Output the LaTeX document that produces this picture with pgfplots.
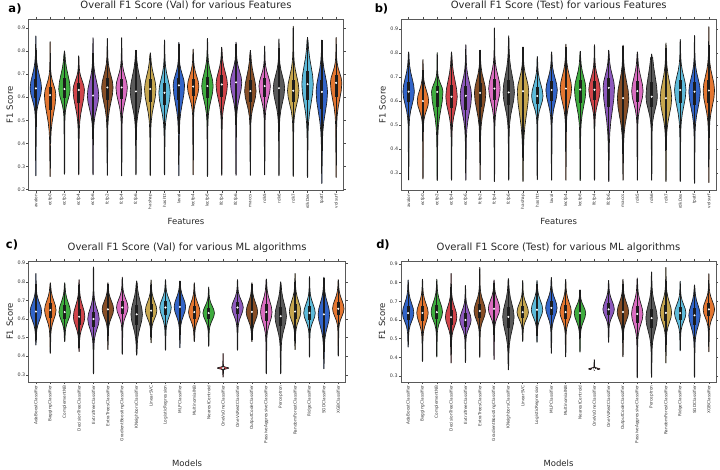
\documentclass[border=0pt]{standalone}
\usepackage{pgfplots}
\pgfplotsset{compat=1.18}
\usepackage{fontspec}
\setmainfont{DejaVu Sans}
\definecolor{c1}{RGB}{50,100,200}
\definecolor{c2}{RGB}{228,118,48}
\definecolor{c3}{RGB}{62,172,62}
\definecolor{c4}{RGB}{208,68,74}
\definecolor{c5}{RGB}{140,88,188}
\definecolor{c6}{RGB}{135,78,38}
\definecolor{c7}{RGB}{218,108,192}
\definecolor{c8}{RGB}{90,90,90}
\definecolor{c9}{RGB}{198,166,78}
\definecolor{c10}{RGB}{92,186,218}
\definecolor{vline}{RGB}{28,28,28}
\newcommand\vpt[2]{\pgfmathsetmacro\tmpy{#2}\pgfmathsetmacro\tmpxr{\vx+#1}\pgfmathsetmacro\tmpxl{\vx-#1}\xdef\vR{\vR(\tmpxr,\tmpy)}\xdef\vL{(\tmpxl,\tmpy)\vL}}
% #1 x, #2 min, #3 q1, #4 median, #5 q3, #6 max, #7 colour
\newcommand{\violin}[7]{%
 \pgfmathsetmacro\vx{#1}%
 \pgfmathsetmacro\vlo{#2}\pgfmathsetmacro\vqa{#3}\pgfmathsetmacro\vmed{#4}\pgfmathsetmacro\vqc{#5}\pgfmathsetmacro\vhi{#6}%
 \pgfmathsetmacro\sL{max(0.8*(\vmed-\vqa)/0.674,0.004)}%
 \pgfmathsetmacro\sU{max(0.9*(\vqc-\vmed)/0.674,0.004)}%
 \gdef\vR{}\gdef\vL{}%
 \vpt{0.006}{\vlo}%
 \vpt{0.016}{\vlo+0.006}%
 \pgfmathsetmacro\ylt{max(\vmed-3*\sL,\vlo+0.012)}%
 \vpt{0.022}{(\vlo+\ylt)/2}%
 \vpt{0.03}{\ylt}%
 \vpt{0.04}{max(\vmed-2.5*\sL,\vlo+0.013)}%
 \vpt{0.072}{max(\vmed-2*\sL,\vlo+0.014)}%
 \vpt{0.141}{max(\vmed-1.5*\sL,\vlo+0.015)}%
 \vpt{0.248}{\vmed-\sL}%
 \vpt{0.353}{\vmed-0.5*\sL}%
 \vpt{0.40}{\vmed}%
 \vpt{0.353}{\vmed+0.5*\sU}%
 \vpt{0.248}{\vmed+\sU}%
 \vpt{0.141}{min(\vmed+1.5*\sU,\vhi-0.015)}%
 \vpt{0.069}{min(\vmed+2*\sU,\vhi-0.014)}%
 \vpt{0.035}{min(\vmed+2.5*\sU,\vhi-0.013)}%
 \pgfmathsetmacro\yut{min(\vmed+3*\sU,\vhi-0.012)}%
 \vpt{0.024}{\yut}%
 \vpt{0.018}{(\vhi+\yut)/2}%
 \vpt{0.012}{\vhi-0.006}%
 \vpt{0.004}{\vhi}%
 \pgfmathsetmacro\wl{max(\vlo,\vqa-1.5*(\vqc-\vqa))}%
 \pgfmathsetmacro\wh{min(\vhi,\vqc+1.5*(\vqc-\vqa))}%
 \edef\temp{\noexpand\addplot[fill=#7,draw=vline,line width=0.65pt,line join=round] coordinates {\vR\vL} -- cycle;}\temp
 \edef\temp{\noexpand\addplot[vline,line width=1.3pt] coordinates {(\vx,\wl) (\vx,\wh)};}\temp
 \edef\temp{\noexpand\addplot[vline,line width=2.8pt] coordinates {(\vx,\vqa) (\vx,\vqc)};}\temp
 \edef\temp{\noexpand\addplot[only marks,mark=*,mark size=0.8pt,mark options={fill=white,draw=white}] coordinates {(\vx,\vmed)};}\temp
}
\pgfplotsset{vstyle/.style={scale only axis, xmin=-0.5, xmax=21.5, xtick={0,...,21},
  tick align=outside, major tick length=2.2pt,
  tick style={black!70, line width=0.5pt},
  axis line style={black!65, line width=0.7pt},
  xticklabel style={rotate=90, anchor=east, font=\fontsize{4.2}{5}\selectfont, inner sep=1pt, text=black!80},
  yticklabel style={font=\fontsize{4.8}{5}\selectfont, inner sep=1pt, text=black!80, /pgf/number format/.cd, fixed, precision=1, assume math mode=true},
  ytick={0.2,0.3,0.4,0.5,0.6,0.7,0.8,0.9},
  title style={at={(0.5,1)}, anchor=base, yshift=4.3pt, font=\fontsize{10}{12}\selectfont, text=black!85},
  every axis y label/.style={at={(axis description cs:0,0.5)}, xshift=-19pt, rotate=90, anchor=center, font=\fontsize{8.5}{10}\selectfont, text=black!85},
  ylabel={F1 Score},
}}
\begin{document}
\begin{tikzpicture}
\path[use as bounding box] (0,0) rectangle (720pt,-470pt);
% ---------------- a
\begin{axis}[vstyle, at={(28.7pt,-190.5pt)}, anchor=south west, width=314.6pt, height=171.5pt,
  ymin=0.1965, ymax=0.938,
  title={Overall F1 Score (Val) for various Features},
  xticklabels={avalon,ecfp0,ecfp2,ecfp4,ecfp6,fcfp2,fcfp4,fcfp6,hashap,hashtt,laval,lecfp4,lecfp6,lfcfp4,lfcfp6,maccs,rdk5,rdk6,rdk7,rdkDes,tpatf,volsurf},
  every axis x label/.style={at={(axis description cs:0.5,0)}, yshift=-30.5pt, anchor=center, font=\fontsize{8.5}{10}\selectfont, text=black!85},
  xlabel={Features}]
\violin{0}{0.260}{0.597}{0.638}{0.680}{0.865}{c1}
\violin{1}{0.257}{0.544}{0.609}{0.642}{0.840}{c2}
\violin{2}{0.267}{0.595}{0.635}{0.681}{0.800}{c3}
\violin{3}{0.264}{0.573}{0.631}{0.660}{0.779}{c4}
\violin{4}{0.264}{0.558}{0.607}{0.652}{0.857}{c5}
\violin{5}{0.262}{0.587}{0.642}{0.681}{0.854}{c6}
\violin{6}{0.260}{0.593}{0.642}{0.677}{0.857}{c7}
\violin{7}{0.264}{0.570}{0.625}{0.674}{0.803}{c8}
\violin{8}{0.260}{0.577}{0.635}{0.678}{0.792}{c9}
\violin{9}{0.264}{0.564}{0.619}{0.662}{0.847}{c10}
\violin{10}{0.260}{0.587}{0.651}{0.685}{0.837}{c1}
\violin{11}{0.264}{0.605}{0.646}{0.680}{0.808}{c2}
\violin{12}{0.257}{0.597}{0.648}{0.688}{0.854}{c3}
\violin{13}{0.262}{0.602}{0.655}{0.694}{0.816}{c4}
\violin{14}{0.262}{0.612}{0.664}{0.700}{0.838}{c5}
\violin{15}{0.262}{0.580}{0.626}{0.674}{0.802}{c6}
\violin{16}{0.264}{0.602}{0.648}{0.681}{0.821}{c7}
\violin{17}{0.260}{0.587}{0.639}{0.678}{0.852}{c8}
\violin{18}{0.257}{0.579}{0.628}{0.674}{0.907}{c9}
\violin{19}{0.253}{0.587}{0.656}{0.714}{0.858}{c10}
\violin{20}{0.227}{0.551}{0.623}{0.674}{0.847}{c1}
\violin{21}{0.253}{0.602}{0.662}{0.694}{0.858}{c2}
\end{axis}
% ---------------- b
\begin{axis}[vstyle, at={(401.5pt,-190.5pt)}, anchor=south west, width=314.5pt, height=171.5pt,
  ymin=0.227, ymax=0.942,
  title={Overall F1 Score (Test) for various Features},
  xticklabels={avalon,ecfp0,ecfp2,ecfp4,ecfp6,fcfp2,fcfp4,fcfp6,hashap,hashtt,laval,lecfp4,lecfp6,lfcfp4,lfcfp6,maccs,rdk5,rdk6,rdk7,rdkDes,tpatf,volsurf},
  every axis x label/.style={at={(axis description cs:0.5,0)}, yshift=-30.5pt, anchor=center, font=\fontsize{8.5}{10}\selectfont, text=black!85},
  xlabel={Features}]
\violin{0}{0.271}{0.594}{0.639}{0.680}{0.805}{c1}
\violin{1}{0.275}{0.567}{0.600}{0.632}{0.773}{c2}
\violin{2}{0.268}{0.575}{0.638}{0.662}{0.802}{c3}
\violin{3}{0.270}{0.569}{0.618}{0.667}{0.805}{c4}
\violin{4}{0.270}{0.563}{0.622}{0.664}{0.835}{c5}
\violin{5}{0.272}{0.576}{0.634}{0.674}{0.812}{c6}
\violin{6}{0.264}{0.604}{0.652}{0.692}{0.905}{c7}
\violin{7}{0.270}{0.583}{0.636}{0.687}{0.872}{c8}
\violin{8}{0.264}{0.562}{0.641}{0.680}{0.825}{c9}
\violin{9}{0.272}{0.586}{0.621}{0.657}{0.786}{c10}
\violin{10}{0.270}{0.600}{0.646}{0.682}{0.805}{c1}
\violin{11}{0.270}{0.604}{0.652}{0.692}{0.837}{c2}
\violin{12}{0.268}{0.590}{0.648}{0.687}{0.808}{c3}
\violin{13}{0.270}{0.604}{0.647}{0.683}{0.835}{c4}
\violin{14}{0.264}{0.576}{0.655}{0.694}{0.812}{c5}
\violin{15}{0.270}{0.549}{0.612}{0.662}{0.833}{c6}
\violin{16}{0.270}{0.597}{0.641}{0.683}{0.805}{c7}
\violin{17}{0.270}{0.574}{0.618}{0.680}{0.796}{c8}
\violin{18}{0.264}{0.556}{0.612}{0.662}{0.842}{c9}
\violin{19}{0.264}{0.590}{0.646}{0.687}{0.857}{c10}
\violin{20}{0.257}{0.583}{0.639}{0.680}{0.873}{c1}
\violin{21}{0.260}{0.590}{0.644}{0.687}{0.910}{c2}
\end{axis}
% ---------------- c
\begin{axis}[vstyle, at={(28.7pt,-382pt)}, anchor=south west, width=316.8pt, height=121pt,
  ymin=0.261, ymax=0.912,
  title={Overall F1 Score (Val) for various ML algorithms},
  xticklabels={AdaBoostClassifier,BaggingClassifier,ComplementNB,DecisionTreeClassifier,ExtraTreeClassifier,ExtraTreesClassifier,GradientBoostingClassifier,KNeighborsClassifier,LinearSVC,LogisticRegression,MLPClassifier,MultinomialNB,NearestCentroid,OneVsOneClassifier,OneVsRestClassifier,OutputCodeClassifier,PassiveAggressiveClassifier,Perceptron,RandomForestClassifier,RidgeClassifier,SGDClassifier,XGBClassifier},
  every axis x label/.style={at={(axis description cs:0.5,0)}, yshift=-81pt, anchor=center, font=\fontsize{8.5}{10}\selectfont, text=black!85},
  xlabel={Models}]
\violin{0}{0.460}{0.600}{0.640}{0.675}{0.845}{c1}
\violin{1}{0.415}{0.605}{0.648}{0.685}{0.795}{c2}
\violin{2}{0.478}{0.600}{0.637}{0.675}{0.795}{c3}
\violin{3}{0.425}{0.570}{0.612}{0.655}{0.812}{c4}
\violin{4}{0.305}{0.555}{0.600}{0.640}{0.880}{c5}
\violin{5}{0.435}{0.615}{0.652}{0.685}{0.795}{c6}
\violin{6}{0.410}{0.625}{0.662}{0.695}{0.825}{c7}
\violin{7}{0.405}{0.570}{0.625}{0.675}{0.805}{c8}
\violin{8}{0.472}{0.610}{0.645}{0.680}{0.810}{c9}
\violin{9}{0.432}{0.620}{0.662}{0.695}{0.812}{c10}
\violin{10}{0.445}{0.625}{0.665}{0.700}{0.805}{c1}
\violin{11}{0.478}{0.600}{0.637}{0.672}{0.795}{c2}
\violin{12}{0.453}{0.600}{0.632}{0.660}{0.772}{c3}
\violin{13}{0.287}{0.333}{0.336}{0.339}{0.415}{c4}
\violin{14}{0.432}{0.625}{0.662}{0.692}{0.812}{c5}
\violin{15}{0.478}{0.600}{0.638}{0.675}{0.795}{c6}
\violin{16}{0.305}{0.590}{0.637}{0.680}{0.815}{c7}
\violin{17}{0.305}{0.560}{0.615}{0.665}{0.800}{c8}
\violin{18}{0.435}{0.600}{0.640}{0.680}{0.845}{c9}
\violin{19}{0.395}{0.595}{0.632}{0.668}{0.828}{c10}
\violin{20}{0.332}{0.570}{0.625}{0.670}{0.825}{c1}
\violin{21}{0.400}{0.620}{0.655}{0.690}{0.812}{c2}
\end{axis}
% ---------------- d
\begin{axis}[vstyle, at={(401pt,-382pt)}, anchor=south west, width=315pt, height=121pt,
  ymin=0.268, ymax=0.916,
  title={Overall F1 Score (Test) for various ML algorithms},
  xticklabels={AdaBoostClassifier,BaggingClassifier,ComplementNB,DecisionTreeClassifier,ExtraTreeClassifier,ExtraTreesClassifier,GradientBoostingClassifier,KNeighborsClassifier,LinearSVC,LogisticRegression,MLPClassifier,MultinomialNB,NearestCentroid,OneVsOneClassifier,OneVsRestClassifier,OutputCodeClassifier,PassiveAggressiveClassifier,Perceptron,RandomForestClassifier,RidgeClassifier,SGDClassifier,XGBClassifier},
  every axis x label/.style={at={(axis description cs:0.5,0)}, yshift=-81pt, anchor=center, font=\fontsize{8.5}{10}\selectfont, text=black!85},
  xlabel={Models}]
\violin{0}{0.455}{0.600}{0.637}{0.675}{0.815}{c1}
\violin{1}{0.378}{0.595}{0.638}{0.675}{0.818}{c2}
\violin{2}{0.402}{0.605}{0.642}{0.680}{0.818}{c3}
\violin{3}{0.370}{0.575}{0.615}{0.655}{0.850}{c4}
\violin{4}{0.372}{0.565}{0.600}{0.635}{0.785}{c5}
\violin{5}{0.400}{0.610}{0.648}{0.685}{0.882}{c6}
\violin{6}{0.388}{0.625}{0.660}{0.695}{0.815}{c7}
\violin{7}{0.333}{0.555}{0.617}{0.668}{0.822}{c8}
\violin{8}{0.485}{0.610}{0.642}{0.675}{0.812}{c9}
\violin{9}{0.480}{0.620}{0.655}{0.690}{0.812}{c10}
\violin{10}{0.422}{0.625}{0.665}{0.700}{0.828}{c1}
\violin{11}{0.403}{0.605}{0.642}{0.680}{0.818}{c2}
\violin{12}{0.428}{0.600}{0.637}{0.665}{0.762}{c3}
\violin{13}{0.330}{0.335}{0.338}{0.341}{0.388}{c4}
\violin{14}{0.480}{0.625}{0.657}{0.690}{0.812}{c5}
\violin{15}{0.403}{0.605}{0.643}{0.680}{0.818}{c6}
\violin{16}{0.290}{0.585}{0.632}{0.675}{0.825}{c7}
\violin{17}{0.293}{0.555}{0.610}{0.660}{0.858}{c8}
\violin{18}{0.370}{0.595}{0.638}{0.680}{0.882}{c9}
\violin{19}{0.435}{0.600}{0.637}{0.670}{0.808}{c10}
\violin{20}{0.293}{0.575}{0.625}{0.665}{0.788}{c1}
\violin{21}{0.430}{0.620}{0.657}{0.690}{0.848}{c2}
\end{axis}
\node[font=\fontsize{11.5}{12}\selectfont\bfseries] at (15pt,-9pt) {a)};
\node[font=\fontsize{11.5}{12}\selectfont\bfseries] at (381.5pt,-9pt) {b)};
\node[font=\fontsize{11.5}{12}\selectfont\bfseries] at (12pt,-245pt) {c)};
\node[font=\fontsize{11.5}{12}\selectfont\bfseries] at (383pt,-245pt) {d)};
\end{tikzpicture}
\end{document}
